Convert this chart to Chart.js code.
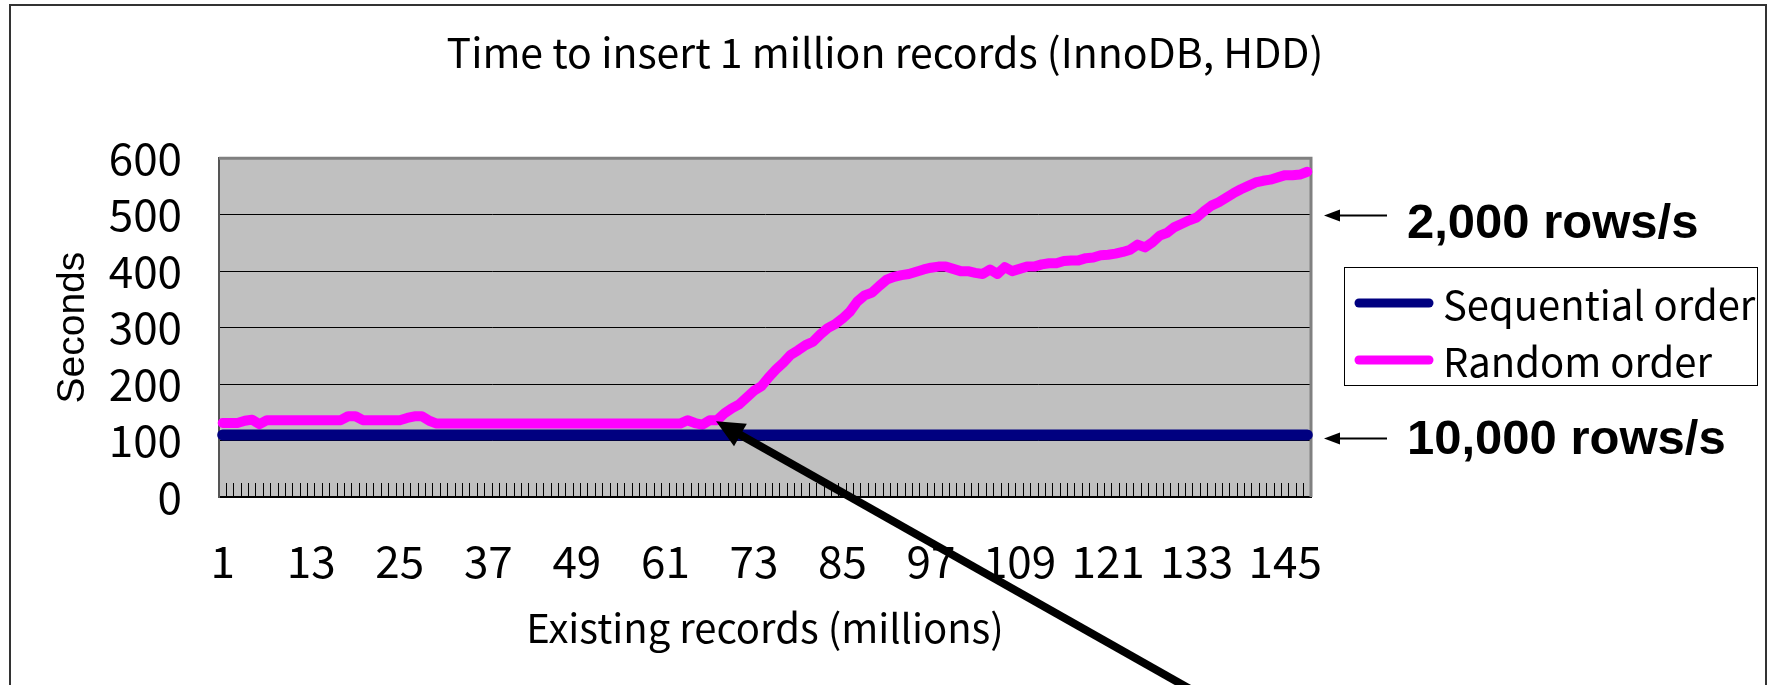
<!DOCTYPE html>
<html>
<head>
  <meta charset="utf-8" />
  <title>Time to insert 1 million records (InnoDB, HDD)</title>
  <script src="https://cdn.jsdelivr.net/npm/chart.js"></script>
  <style>
    html, body { margin: 0; padding: 0; background: #fff; }
    canvas { display: block; }
  </style>
</head>
<body>
  <canvas id="insertChart" width="1770" height="685"></canvas>
<script>
// seconds to insert 1M rows (one point per million existing rows)
const randomOrder = [
  131, 131, 131, 135, 137, 129, 136, 136, 136, 136,
  136, 136, 136, 136, 136, 136, 136, 143, 143, 136,
  136, 136, 136, 136, 136, 140, 143, 143, 135, 130,
  130, 130, 130, 130, 130, 130, 130, 130, 130, 130,
  130, 130, 130, 130, 130, 130, 130, 130, 130, 130,
  130, 130, 130, 130, 130, 130, 130, 130, 130, 130,
  130, 130, 130, 136, 131, 128, 136, 136, 148, 157,
  164, 176, 188, 196, 212, 226, 238, 252, 260, 269,
  275, 288, 299, 306, 316, 328, 346, 357, 362, 374,
  385, 390, 393, 395, 399, 403, 406, 408, 408, 404,
  400, 400, 397, 395, 403, 395, 407, 400, 404, 408,
  408, 412, 414, 414, 418, 419, 419, 423, 424, 428,
  429, 431, 434, 438, 447, 442, 451, 463, 468, 478,
  484, 490, 495, 506, 516, 522, 530, 538, 545, 551,
  557, 560, 562, 566, 570, 570, 571, 576
];
const sequentialOrder = [
  110, 110, 110, 110, 110, 110, 110, 110, 110, 110, 110, 110, 110, 110, 110, 110, 110, 110, 110, 110,
  110, 110, 110, 110, 110, 110, 110, 110, 110, 110, 110, 110, 110, 110, 110, 110, 110, 110, 110, 110,
  110, 110, 110, 110, 110, 110, 110, 110, 110, 110, 110, 110, 110, 110, 110, 110, 110, 110, 110, 110,
  110, 110, 110, 110, 110, 110, 110, 110, 110, 110, 110, 110, 110, 110, 110, 110, 110, 110, 110, 110,
  110, 110, 110, 110, 110, 110, 110, 110, 110, 110, 110, 110, 110, 110, 110, 110, 110, 110, 110, 110,
  110, 110, 110, 110, 110, 110, 110, 110, 110, 110, 110, 110, 110, 110, 110, 110, 110, 110, 110, 110,
  110, 110, 110, 110, 110, 110, 110, 110, 110, 110, 110, 110, 110, 110, 110, 110, 110, 110, 110, 110,
  110, 110, 110, 110, 110, 110, 110, 110
];
// category axis: existing records in millions, 1..148
const existingMillions = randomOrder.map((v, i) => String(i + 1));
const seriesNames = ['Sequential order', 'Random order'];
const seriesColors = ['#000080', '#ff00ff'];
const rateNotes = [
  { value: 500, text: '2,000 rows/s' },
  { value: 105, text: '10,000 rows/s' }
];
const arrowAt = 67; // index where the random curve starts to climb

Chart.defaults.font.family = '"Noto Sans CJK JP", "Noto Sans", sans-serif';
Chart.defaults.color = '#000';

function arrowHead(ctx, tx, ty, dx, dy, len, half) {
  const bx = tx + dx * len, by = ty + dy * len;
  ctx.beginPath();
  ctx.moveTo(tx, ty);
  ctx.lineTo(bx - dy * half, by + dx * half);
  ctx.lineTo(bx + dy * half, by - dx * half);
  ctx.closePath();
  ctx.fill();
}

const decorations = {
  id: 'decorations',
  beforeDraw(chart) {
    const { ctx, chartArea: a } = chart;
    ctx.save();
    ctx.fillStyle = '#fff';
    ctx.fillRect(0, 0, chart.width, chart.height);
    ctx.fillStyle = '#c0c0c0';
    ctx.fillRect(a.left, a.top, a.right - a.left, a.bottom - a.top);
    // outer frame of the slide, bottom edge is cut off
    ctx.strokeStyle = '#333';
    ctx.lineWidth = 2;
    ctx.beginPath();
    ctx.moveTo(10, chart.height + 5);
    ctx.lineTo(10, 5);
    ctx.lineTo(1766, 5);
    ctx.lineTo(1766, chart.height + 5);
    ctx.stroke();
    ctx.restore();
  },
  beforeDatasetsDraw(chart) {
    const { ctx, chartArea: a } = chart;
    ctx.save();
    ctx.strokeStyle = '#808080';
    ctx.lineWidth = 3;
    ctx.beginPath();
    ctx.moveTo(a.left, a.top);
    ctx.lineTo(a.right, a.top);
    ctx.lineTo(a.right, a.bottom);
    ctx.stroke();
    ctx.restore();
  },
  afterDraw(chart) {
    const { ctx, chartArea: a, scales: { x, y } } = chart;
    ctx.save();

    // legend box
    const lx = a.right + 33, ly = 267;
    ctx.fillStyle = '#fff';
    ctx.fillRect(lx, ly, 413, 118);
    ctx.strokeStyle = '#000';
    ctx.lineWidth = 1;
    ctx.strokeRect(lx + 0.5, ly + 0.5, 413, 118);
    ctx.font = '40px "Noto Sans CJK JP", sans-serif';
    ctx.textBaseline = 'middle';
    ctx.textAlign = 'left';
    chart.data.datasets.forEach((ds, i) => {
      const rowY = ly + 36 + i * 57;
      ctx.strokeStyle = ds.borderColor;
      ctx.lineWidth = 9;
      ctx.lineCap = 'round';
      ctx.beginPath();
      ctx.moveTo(lx + 15, rowY);
      ctx.lineTo(lx + 85, rowY);
      ctx.stroke();
      ctx.fillStyle = '#000';
      ctx.fillText(ds.label, lx + 99, rowY + 2);
    });

    // rate notes on the right
    const drop = [22, 15];
    ctx.fillStyle = '#000';
    ctx.strokeStyle = '#000';
    ctx.lineCap = 'butt';
    ctx.font = 'bold 49px "Liberation Sans", Arial, sans-serif';
    ctx.textBaseline = 'alphabetic';
    rateNotes.forEach((n, i) => {
      const py = Math.round(y.getPixelForValue(n.value)) + 0.5;
      ctx.lineWidth = 2;
      ctx.beginPath();
      ctx.moveTo(a.right + 26, py);
      ctx.lineTo(a.right + 76, py);
      ctx.stroke();
      arrowHead(ctx, a.right + 13, py, 1, 0, 16, 6);
      ctx.fillText(n.text, a.right + 96, py + drop[i]);
    });

    // big pointer arrow to where random inserts start slowing down
    const tx = x.getPixelForValue(arrowAt) - 1;
    const ty = y.getPixelForValue(randomOrder[arrowAt]) + 1;
    const ang = Math.atan(0.565);
    const dx = Math.cos(ang), dy = Math.sin(ang);
    ctx.lineWidth = 8;
    ctx.beginPath();
    ctx.moveTo(tx + dx * 20, ty + dy * 20);
    ctx.lineTo(tx + dx * 700, ty + dy * 700);
    ctx.stroke();
    arrowHead(ctx, tx, ty, dx, dy, 28, 13);

    ctx.restore();
  }
};

new Chart(document.getElementById('insertChart'), {
  type: 'line',
  data: {
    labels: existingMillions,
    datasets: [
      { label: seriesNames[0], data: sequentialOrder, borderColor: seriesColors[0], backgroundColor: seriesColors[0], borderWidth: 11 },
      { label: seriesNames[1], data: randomOrder, borderColor: seriesColors[1], backgroundColor: seriesColors[1], borderWidth: 10 }
    ]
  },
  options: {
    responsive: false,
    animation: false,
    devicePixelRatio: 1,
    layout: { padding: 0 },
    elements: {
      line: { tension: 0, borderCapStyle: 'round', borderJoinStyle: 'round', fill: false },
      point: { radius: 0, hoverRadius: 0 }
    },
    plugins: {
      legend: { display: false },
      tooltip: { enabled: false },
      title: {
        display: true,
        text: 'Time to insert 1 million records (InnoDB, HDD)',
        color: '#000',
        font: { size: 41, weight: 'normal' },
        padding: { top: 28, bottom: 81 }
      }
    },
    scales: {
      x: {
        offset: true,
        grid: { drawOnChartArea: false, drawTicks: true, tickLength: -14, color: '#000', lineWidth: 1, offset: true },
        border: { display: true, color: '#000', width: 2 },
        ticks: {
          autoSkip: false, maxRotation: 0, minRotation: 0, padding: 52,
          font: { size: 44 },
          callback: (v, i) => (i % 12 === 0 ? existingMillions[i] : '')
        },
        title: {
          display: true,
          text: 'Existing records (millions)',
          font: { size: 40 },
          padding: { top: 0, bottom: 33 }
        },
        afterFit: s => { s.height = 188; }
      },
      y: {
        min: 0,
        max: 600,
        ticks: { stepSize: 100, padding: 37, font: { size: 44 } },
        grid: {
          drawTicks: false,
          lineWidth: 1,
          color: c => (c.tick.value === 0 || c.tick.value === 600 ? 'rgba(0,0,0,0)' : '#000')
        },
        border: { display: true, color: '#555', width: 2 },
        title: {
          display: true,
          text: 'Seconds',
          font: { family: '"Liberation Sans", Arial, sans-serif', size: 39 },
          padding: { top: 50, bottom: 0 }
        },
        afterFit: s => { s.width = 219; }
      },
      // empty axis that only reserves room for the legend and the rate notes
      notes: {
        position: 'right',
        ticks: { display: false },
        grid: { display: false },
        border: { display: false },
        afterFit: s => { s.width = 459; }
      }
    }
  },
  plugins: [decorations]
});
</script>
</body>
</html>
